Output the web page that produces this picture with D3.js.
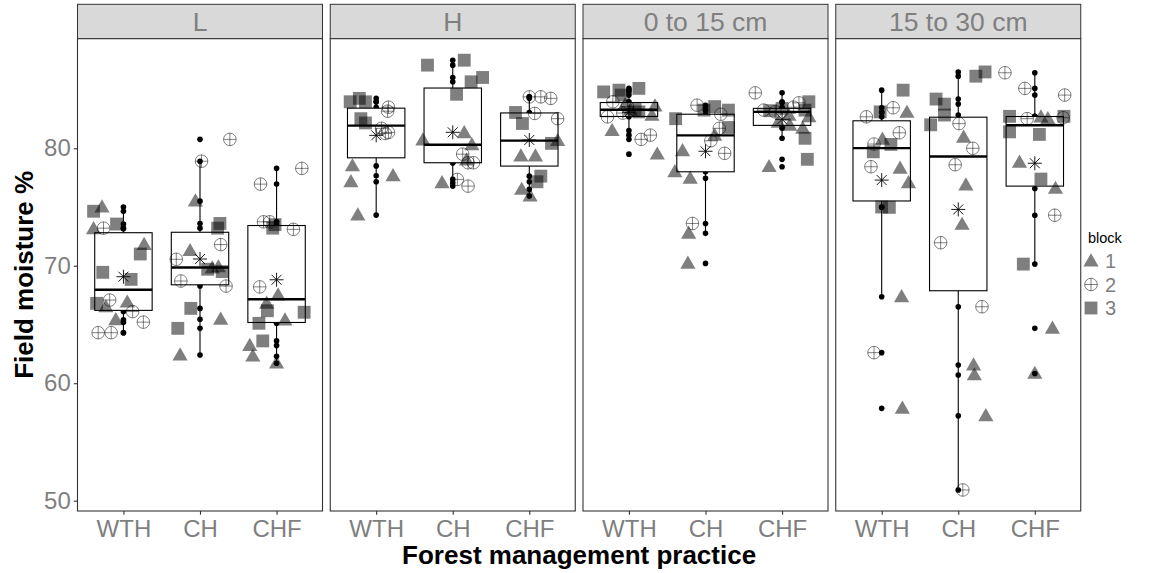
<!DOCTYPE html>
<html><head><meta charset="utf-8">
<script src="https://cdn.jsdelivr.net/npm/d3@7"></script>
<style>
body{margin:0;background:#fff}
text{font-family:"Liberation Sans",Arial,Helvetica,sans-serif}
</style>
</head><body>
<svg id="chart" width="1149" height="573"></svg>
<script>
// ---------------- data ----------------
const panels = ["L", "H", "0 to 15 cm", "15 to 30 cm"];
const practices = ["WTH", "CH", "CHF"];
const yTickValues = [50, 60, 70, 80];
const blockLabels = ["1", "2", "3"];

// each point: [field moisture %, block, horizontal jitter (in category units)]
const L_WTH = [[74.64,3,-0.39],[75.0,1,-0.28],[73.15,1,-0.39],[73.2,2,-0.26],[73.55,3,-0.09],[71.8,1,0.27],[71.0,3,0.22],[69.44,3,-0.27],[68.84,3,0.10],[67.08,2,-0.18],[66.8,3,-0.35],[66.5,1,-0.23],[66.9,1,0.05],[66.1,2,0.12],[65.4,1,-0.10],[65.2,2,0.26],[64.3,2,-0.33],[64.3,2,-0.16]];
const L_CH = [[80.76,2,0.39],[78.9,2,0.02],[75.5,1,-0.06],[73.6,3,0.26],[73.2,3,0.23],[71.8,2,0.27],[71.28,1,-0.13],[70.55,2,-0.31],[69.7,3,0.10],[69.9,1,0.24],[69.5,3,0.29],[69.8,1,0.16],[68.7,2,-0.25],[68.27,2,0.34],[66.37,3,-0.12],[65.44,1,0.27],[64.67,3,-0.29],[62.4,1,-0.26]];
const L_CHF = [[78.29,2,0.33],[76.95,2,-0.21],[73.74,2,-0.17],[73.74,2,-0.09],[73.2,3,-0.05],[73.5,3,-0.02],[73.1,2,0.22],[68.2,2,-0.22],[67.5,1,0.02],[66.8,1,-0.13],[66.17,3,-0.12],[66.04,3,0.36],[65.38,1,0.11],[65.1,3,-0.23],[63.6,3,-0.18],[63.2,1,-0.35],[62.3,1,-0.31],[61.7,1,0.0]];
const H_WTH = [[84.25,3,-0.22],[83.96,3,-0.34],[83.96,3,-0.14],[82.52,3,-0.20],[82.16,3,-0.14],[83.5,2,0.16],[83.16,2,0.15],[81.7,2,0.07],[81.35,2,0.16],[81.26,2,0.12],[78.5,1,-0.31],[77.15,1,-0.33],[77.66,1,0.22],[74.31,1,-0.24]];
const H_CH = [[87.08,3,-0.33],[87.5,3,0.15],[86.03,3,0.39],[85.66,3,0.24],[84.6,3,0.05],[80.7,1,-0.39],[81.32,1,0.15],[80.3,1,0.25],[79.0,1,0.18],[77.06,1,-0.14],[79.5,2,0.13],[78.77,2,0.20],[78.77,2,0.27],[77.35,2,0.06],[76.78,2,0.20]];
const H_CHF = [[84.38,2,0.0],[84.38,2,0.15],[84.25,2,0.28],[82.97,2,0.07],[82.52,2,0.37],[83.05,3,-0.18],[82.11,3,-0.09],[80.42,3,0.29],[77.63,3,0.15],[77.15,3,0.10],[80.65,1,0.37],[79.34,1,-0.11],[79.34,1,0.08],[76.5,1,-0.10],[75.93,1,0.01]];
const D15_WTH = [[84.8,3,-0.33],[84.95,3,-0.13],[85.1,3,0.13],[84.53,3,-0.10],[83.1,3,0.13],[83.3,3,0.08],[83.96,2,-0.21],[82.68,2,-0.28],[83.55,2,-0.02],[83.0,2,-0.08],[80.76,2,0.16],[81.12,2,0.28],[83.6,1,0.34],[83.25,1,0.02],[83.7,1,-0.05],[82.8,1,0.30],[81.5,1,-0.22],[79.5,1,0.37]];
const D15_CH = [[83.67,2,-0.11],[83.25,3,-0.02],[83.55,3,0.12],[82.9,2,0.20],[83.25,3,0.30],[82.52,3,-0.39],[81.7,2,0.18],[81.77,3,0.30],[80.64,2,0.07],[81.1,1,0.12],[79.78,1,-0.30],[79.57,2,0.25],[78.0,1,-0.40],[77.44,1,-0.20],[73.6,2,-0.17],[72.76,1,-0.22],[70.2,1,-0.23]];
const D15_CHF = [[84.72,2,-0.35],[83.25,2,-0.24],[83.2,3,-0.15],[83.1,2,-0.09],[83.96,3,0.35],[83.87,2,0.22],[83.25,3,0.30],[82.68,1,0.35],[82.8,1,0.09],[81.7,1,0.27],[80.85,3,0.30],[78.43,1,-0.17],[79.06,3,0.33],[83.5,2,0.15],[83.4,3,0.0],[82.2,1,-0.05],[81.95,1,0.10]];
const D30_WTH = [[84.95,3,0.28],[83.45,2,0.15],[83.05,1,0.33],[83.1,3,-0.02],[82.68,2,-0.20],[81.32,2,0.23],[80.36,2,-0.10],[80.76,1,0.01],[80.33,3,0.12],[79.7,3,-0.11],[78.43,2,-0.14],[78.29,1,0.24],[77.06,1,0.35],[75.0,3,0.0],[74.97,3,0.10],[67.36,1,0.26],[62.6,2,-0.10],[57.86,1,0.27]];
const D30_CH = [[86.14,3,0.23],[86.5,3,0.35],[84.19,3,-0.29],[83.76,3,-0.18],[82.83,3,-0.18],[82.0,3,-0.36],[82.1,2,0.01],[80.94,1,0.07],[80.0,2,0.19],[78.6,2,-0.04],[76.87,1,0.10],[73.52,1,0.05],[71.96,2,-0.23],[66.51,2,0.31],[61.55,1,0.20],[60.7,1,0.21],[57.22,1,0.36],[50.91,2,0.06]];
const D30_CHF = [[86.43,2,-0.39],[85.1,2,-0.13],[84.53,2,0.39],[82.72,3,-0.33],[82.52,2,-0.10],[82.66,1,0.08],[82.52,1,0.17],[82.72,3,0.38],[82.6,2,0.37],[81.4,3,-0.33],[81.18,3,0.06],[78.8,1,-0.20],[77.38,3,0.08],[76.58,1,0.27],[70.14,3,-0.15],[74.3,2,0.26],[64.67,1,0.23],[60.83,1,0.0]];

const groups = [
  [L_WTH, L_CH, L_CHF],
  [H_WTH, H_CH, H_CHF],
  [D15_WTH, D15_CH, D15_CHF],
  [D30_WTH, D30_CH, D30_CHF]
];

// ---------------- layout ----------------
const svg = d3.select("#chart");
const panelW = 245, panelGap = 7.75, left0 = 77.5;
const stripTop = 4.3, panelTop = 38.7, panelBottom = 511;
const gray = "#7f7f7f", border = "#333333";
const y = d3.scaleLinear().domain([49.12, 89.33]).range([panelBottom, panelTop]);

const sym = {
  tri: d3.symbol().type(d3.symbolTriangle).size(100)(),
  sq: d3.symbol().type(d3.symbolSquare).size(165)()
};
function drawShape(g, block, cx, cy) {
  if (block === 1) {
    g.append("path").attr("d", sym.tri).attr("transform", `translate(${cx},${cy+1})`)
      .attr("fill", "#000").attr("fill-opacity", 0.5);
  } else if (block === 3) {
    g.append("path").attr("d", sym.sq).attr("transform", `translate(${cx},${cy})`)
      .attr("fill", "#000").attr("fill-opacity", 0.5);
  } else {
    const r = 6.3;
    const cp = g.append("g").attr("transform", `translate(${cx},${cy})`)
      .attr("fill", "none").attr("stroke", "#000").attr("stroke-opacity", 0.55).attr("stroke-width", 0.9);
    cp.append("circle").attr("r", r);
    cp.append("line").attr("x1", -r).attr("x2", r);
    cp.append("line").attr("y1", -r).attr("y2", r);
  }
}

panels.forEach((pname, pi) => {
  const left = left0 + pi * (panelW + panelGap);
  const x = d3.scalePoint().domain(practices).range([left, left + panelW]).padding(0.6);
  const step = x.step();
  const g = svg.append("g");

  // strip
  g.append("rect").attr("x", left).attr("y", stripTop).attr("width", panelW)
    .attr("height", panelTop - stripTop).attr("fill", "#d9d9d9").attr("stroke", border).attr("stroke-width", 1);
  g.append("text").attr("x", left + panelW / 2).attr("y", (stripTop + panelTop) / 2 + 9.5)
    .attr("text-anchor", "middle").attr("font-size", 26.5).attr("fill", gray).text(pname);

  // panel background
  g.append("rect").attr("x", left).attr("y", panelTop).attr("width", panelW)
    .attr("height", panelBottom - panelTop).attr("fill", "#fff");

  practices.forEach((pr, ki) => {
    const pts = groups[pi][ki];
    const vals = pts.map(d => d[0]).sort(d3.ascending);
    const q1 = d3.quantile(vals, 0.25), med = d3.quantile(vals, 0.5), q3 = d3.quantile(vals, 0.75);
    const iqr = q3 - q1;
    const lo = d3.min(vals.filter(v => v >= q1 - 1.5 * iqr));
    const hi = d3.max(vals.filter(v => v <= q3 + 1.5 * iqr));
    const mean = d3.mean(vals);
    const cx = x(pr);
    const hw = step * 0.375;

    // raw points (black, centred)
    g.selectAll(null).data(pts).enter().append("circle")
      .attr("cx", cx).attr("cy", d => y(d[0])).attr("r", 2.8).attr("fill", "#000");

    // boxplot
    g.append("line").attr("x1", cx).attr("x2", cx).attr("y1", y(hi)).attr("y2", y(q3))
      .attr("stroke", "#000").attr("stroke-width", 1.1);
    g.append("line").attr("x1", cx).attr("x2", cx).attr("y1", y(q1)).attr("y2", y(lo))
      .attr("stroke", "#000").attr("stroke-width", 1.1);
    g.append("rect").attr("x", cx - hw).attr("width", 2 * hw).attr("y", y(q3))
      .attr("height", y(q1) - y(q3)).attr("fill", "#fff").attr("stroke", "#000").attr("stroke-width", 1.1);
    g.append("line").attr("x1", cx - hw).attr("x2", cx + hw).attr("y1", y(med)).attr("y2", y(med))
      .attr("stroke", "#000").attr("stroke-width", 2.4);

    // jittered block symbols
    pts.forEach(d => drawShape(g, d[1], cx + d[2] * step, y(d[0])));

    // mean asterisk
    const s = 7, sy = y(mean), sd = s * 0.7071;
    const st = g.append("g").attr("stroke", "#000").attr("stroke-width", 0.9);
    st.append("line").attr("x1", cx - s).attr("x2", cx + s).attr("y1", sy).attr("y2", sy);
    st.append("line").attr("x1", cx).attr("x2", cx).attr("y1", sy - s).attr("y2", sy + s);
    st.append("line").attr("x1", cx - sd).attr("x2", cx + sd).attr("y1", sy - sd).attr("y2", sy + sd);
    st.append("line").attr("x1", cx - sd).attr("x2", cx + sd).attr("y1", sy + sd).attr("y2", sy - sd);
  });

  // panel border
  g.append("rect").attr("x", left).attr("y", panelTop).attr("width", panelW)
    .attr("height", panelBottom - panelTop).attr("fill", "none").attr("stroke", border).attr("stroke-width", 1.1);

  // x axis
  const xa = g.append("g").attr("transform", `translate(0,${panelBottom})`)
    .call(d3.axisBottom(x).tickSize(3.7).tickPadding(5));
  xa.select(".domain").remove();
  xa.selectAll("line").attr("stroke", border).attr("stroke-width", 1.1);
  xa.selectAll("text").attr("font-size", 24).attr("fill", gray)
    .attr("font-family", '"Liberation Sans",Arial,Helvetica,sans-serif');

  if (pi === 0) {
    const ya = g.append("g").attr("transform", `translate(${left},0)`)
      .call(d3.axisLeft(y).tickValues(yTickValues).tickSize(3.7).tickPadding(3));
    ya.select(".domain").remove();
    ya.selectAll("line").attr("stroke", border).attr("stroke-width", 1.1);
    ya.selectAll("text").attr("font-size", 24).attr("fill", gray)
      .attr("font-family", '"Liberation Sans",Arial,Helvetica,sans-serif');
  }
});

// axis titles
const plotCenterX = left0 + (4 * panelW + 3 * panelGap) / 2;
svg.append("text").attr("x", plotCenterX).attr("y", 564).attr("text-anchor", "middle")
  .attr("font-size", 26).attr("font-weight", "bold").attr("fill", "#000").text("Forest management practice");
svg.append("text").attr("transform", `translate(33,${(panelTop + panelBottom) / 2}) rotate(-90)`)
  .attr("text-anchor", "middle").attr("font-size", 26).attr("font-weight", "bold").attr("fill", "#000")
  .text("Field moisture %");

// legend
const lg = svg.append("g");
lg.append("text").attr("x", 1088).attr("y", 243).attr("font-size", 14.5).attr("fill", "#000").text("block");
blockLabels.forEach((b, i) => {
  const ky = 261 + i * 23.5;
  drawShape(lg, +b, 1091, ky);
  lg.append("text").attr("x", 1105).attr("y", ky + 7.2).attr("font-size", 20).attr("fill", gray).text(b);
});
</script>
</body></html>
